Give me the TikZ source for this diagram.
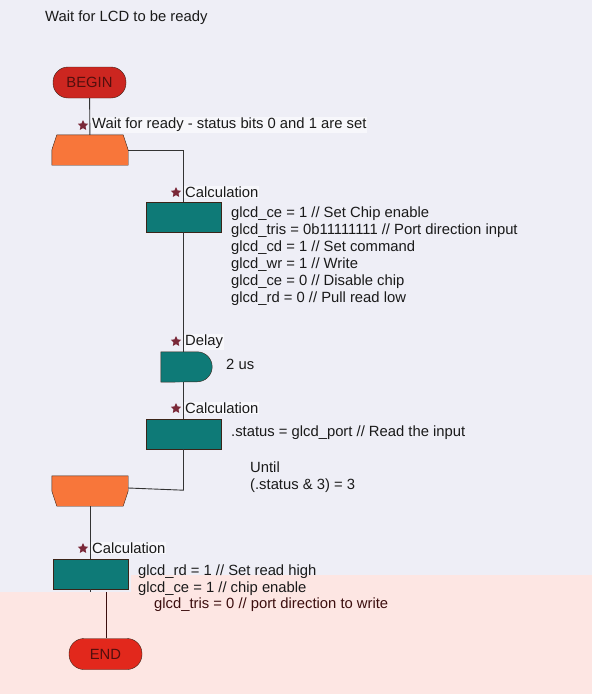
\documentclass[tikz,border=0pt]{standalone}
\usepackage{fontspec}
\setmainfont{Liberation Sans}
\usepackage{tikz}
\usetikzlibrary{shapes.geometric}

\definecolor{bglav}{HTML}{EEEEF6}
\definecolor{bgpink}{HTML}{FDE6E3}
\definecolor{tealbox}{HTML}{0E7A77}
\definecolor{orangebox}{HTML}{F8763A}
\definecolor{beginred}{HTML}{CC2620}
\definecolor{endred}{HTML}{E2281C}
\definecolor{edge}{HTML}{3A2418}
\definecolor{flow}{HTML}{333333}
\definecolor{txt}{HTML}{1A1A1A}
\definecolor{txtpink}{HTML}{3C0E0E}
\definecolor{starred}{HTML}{7A2838}
\definecolor{lblbg}{HTML}{F7F7FB}

\begin{document}
\begin{tikzpicture}[x=1pt,y=-1pt,
  every node/.style={font=\fontsize{14.8}{17}\selectfont, text=txt},
  term/.style={draw=edge, rounded corners=15pt, minimum width=73pt, minimum height=31pt, inner sep=0pt, text=beginred!40!black},
  calcbox/.style={draw=edge, fill=tealbox, minimum width=75pt, minimum height=30pt, inner sep=0pt},
  loopbox/.style={minimum width=76pt, minimum height=30pt, inner sep=0pt},
  starmark/.style={star, star points=5, star point ratio=2.1, fill=starred, inner sep=0pt, minimum size=11pt},
  lbl/.style={anchor=west, fill=lblbg, inner sep=1pt},
  code/.style={anchor=north west, align=left, inner sep=0pt},
  flowline/.style={draw=flow, line width=0.9pt}]

  \useasboundingbox (0,0) rectangle (592,694);
  \fill[bglav] (0,0) rectangle (592,694);
  \fill[bgpink] (0,592) rectangle (592,694);
  \fill[bgpink] (131,575) rectangle (592,592);

  \node[anchor=west, inner sep=0pt] (title) at (45,18) {Wait for LCD to be ready};

  % start
  \node[term, fill=beginred] (begin) at (89.5,82.5) {BEGIN};

  % loop top
  \node[loopbox] (loopA) at (90,150) {};
  \filldraw[draw=edge, fill=orangebox] ([xshift=5pt]loopA.north west) -- ([xshift=-5pt]loopA.north east) -- (loopA.east) -- (loopA.south east) -- (loopA.south west) -- (loopA.west) -- cycle;
  \node[starmark] (starA) at (83,125.5) {};
  \node[lbl] (lblA) at (91,125) {Wait for ready - status bits 0 and 1 are set};

  % first calculation
  \node[calcbox] (calcA) at (183.5,217) {};
  \node[starmark] (starB) at (176,192.5) {};
  \node[lbl] (lblB) at (184,192) {Calculation};
  \node[code] (codeA) at (231,207) {glcd\_ce = 1 // Set Chip enable\\glcd\_tris = 0b11111111 // Port direction input\\glcd\_cd = 1 // Set command\\glcd\_wr = 1 // Write\\glcd\_ce = 0 // Disable chip\\glcd\_rd = 0 // Pull read low};

  % delay
  \node[minimum width=51pt, minimum height=30pt, inner sep=0pt] (delay) at (186.5,367) {};
  \filldraw[draw=edge, fill=tealbox] (delay.north west) -- ([xshift=-15pt]delay.north east) arc[start angle=90, end angle=-90, radius=15pt] -- (delay.south west) -- cycle;
  \node[starmark] (starC) at (176,341.5) {};
  \node[lbl] (lblC) at (184,342) {Delay};
  \node[anchor=west, inner sep=0pt] (us) at (226,364) {2 us};

  % second calculation
  \node[calcbox] (calcB) at (183.5,434) {};
  \node[starmark] (starD) at (176,408.5) {};
  \node[lbl] (lblD) at (184,408) {Calculation};
  \node[anchor=west, inner sep=0pt] (codeB) at (231,433) {.status = glcd\_port // Read the input};

  % loop bottom
  \node[loopbox] (loopB) at (90,491) {};
  \filldraw[draw=edge, fill=orangebox] (loopB.north west) -- (loopB.north east) -- (loopB.east) -- ([xshift=-5pt]loopB.south east) -- ([xshift=5pt]loopB.south west) -- (loopB.west) -- cycle;
  \node[code] (until) at (250,462) {Until\\(.status \& 3) = 3};

  % last calculation
  \node[calcbox] (calcC) at (90.5,574) {};
  \node[starmark] (starE) at (83,548.5) {};
  \node[lbl] (lblE) at (91,548) {Calculation};
  \node[code] (codeC) at (138,565) {glcd\_rd = 1 // Set read high\\glcd\_ce = 1 // chip enable};
  \node[anchor=west, inner sep=0pt, text=txtpink] (codeD) at (154,605) {glcd\_tris = 0 // port direction to write};

  % end
  \node[term, fill=endred] (end) at (105.5,654) {END};

  % connectors
  \coordinate (cut) at (90,592);
  \coordinate (cutB) at (106,592);
  \draw[flowline] (begin) -- (loopA);
  \draw[flowline] (loopA.east) -| (calcA.north);
  \draw[flowline] (calcA.south) -- (calcA.south |- delay.north);
  \draw[flowline] (calcA.south |- delay.south) -- (calcB.north);
  \draw[flowline] (calcB.south) -- ++(0,41) -- ([yshift=3pt]loopB.east);
  \draw[flowline] (loopB.south) -- (calcC.north -| loopB.south);
  \draw[flowline] (calcC.south -| cut) -- (cut);
  \draw[flowline, draw=txtpink] (cutB) -- (end.north -| cutB);
\end{tikzpicture}
\end{document}
